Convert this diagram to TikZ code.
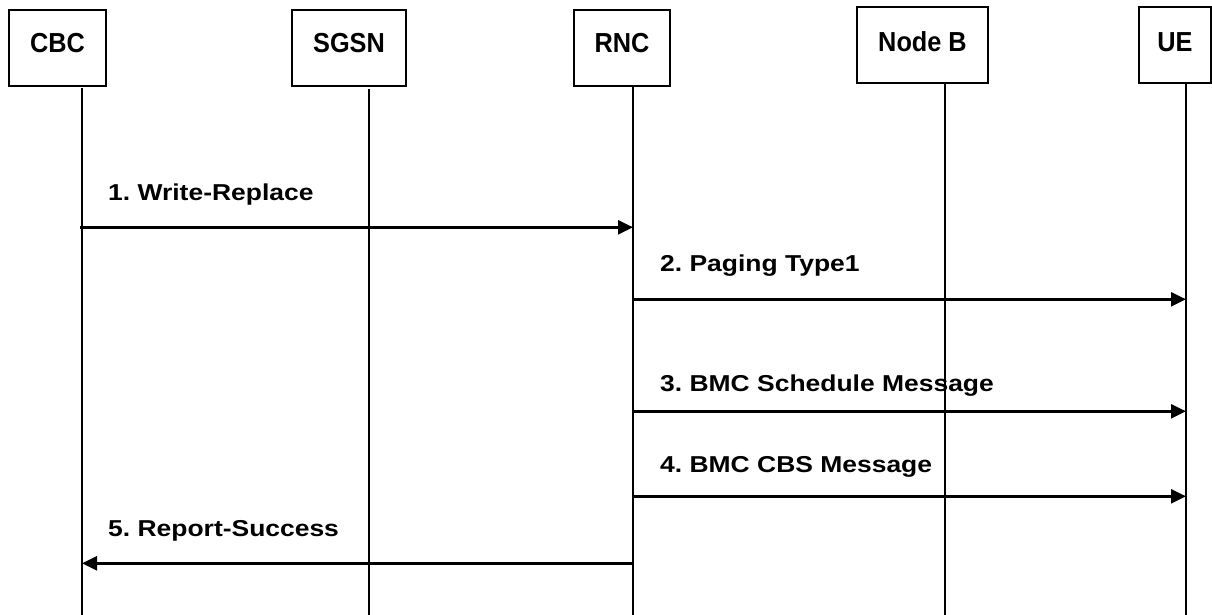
\documentclass[tikz,border=0pt]{standalone}
\usepackage{fontspec}
\setmainfont{Liberation Sans}
\usepackage{graphicx}
\usetikzlibrary{arrows.meta}

% widened / narrowed bold labels
\newcommand\entlabel[1]{\scalebox{0.92}[1]{#1}}
\newcommand\msglabel[1]{\scalebox{1.15}[1]{#1}}

\begin{document}
\frenchspacing
\begin{tikzpicture}[x=1pt,y=-1pt,
  entity/.style={draw, line width=1.6pt, inner sep=0pt, minimum height=76pt,
    font=\fontsize{27.5}{30}\selectfont\bfseries},
  upper/.style={text height=43pt, text depth=33pt},
  lower/.style={text height=45pt, text depth=31pt},
  lifeline/.style={line width=1.4pt},
  msg/.style={line width=2.4pt, -{Triangle[length=15pt,width=14pt]}},
  msgtext/.style={anchor=base west, inner sep=0pt,
    font=\fontsize{23}{26}\selectfont\bfseries}]

\useasboundingbox (0,0) rectangle (1212,615);

% entities
\node[entity, upper, minimum width=97pt]  (cbc)   at (57.5,48)  {\entlabel{CBC}};
\node[entity, upper, minimum width=114pt] (sgsn)  at (349,48)   {\entlabel{SGSN}};
\node[entity, upper, minimum width=96pt]  (rnc)   at (622,48)   {\entlabel{RNC}};
\node[entity, lower, minimum width=131pt] (nodeb) at (922.5,45) {\entlabel{Node B}};
\node[entity, lower, minimum width=72pt]  (ue)    at (1175,45)  {\entlabel{UE}};

% lifeline ends
\coordinate (cbcTop)   at (82,88);    \coordinate (cbcBot)   at (82,615);
\coordinate (sgsnTop)  at (369,89);   \coordinate (sgsnBot)  at (369,615);
\coordinate (rncTop)   at (633,86);   \coordinate (rncBot)   at (633,615);
\coordinate (nodebTop) at (945,83);   \coordinate (nodebBot) at (945,615);
\coordinate (ueTop)    at (1186,83);  \coordinate (ueBot)    at (1186,615);

\draw[lifeline] (cbcTop) -- (cbcBot);
\draw[lifeline] (sgsnTop) -- (sgsnBot);
\draw[lifeline] (rncTop) -- (rncBot);
\draw[lifeline] (nodebTop) -- (nodebBot);
\draw[lifeline] (ueTop) -- (ueBot);

% message rows
\coordinate (m1) at (0,227.3);
\coordinate (m2) at (0,299.3);
\coordinate (m3) at (0,411.3);
\coordinate (m4) at (0,496.3);
\coordinate (m5) at (0,563.3);

\draw[msg] ([xshift=-2pt]cbcTop |- m1) -- (rncTop |- m1);
\draw[msg] (rncTop |- m2) -- (ueTop |- m2);
\draw[msg] (rncTop |- m3) -- (ueTop |- m3);
\draw[msg] (rncTop |- m4) -- (ueTop |- m4);
\draw[msg] (rncTop |- m5) -- (cbcTop |- m5);

% message labels
\node[msgtext] (l1) at (108,200.7) {\msglabel{1. Write-Replace}};
\node[msgtext] (l2) at (660,271.7) {\msglabel{2. Paging Type1}};
\node[msgtext] (l3) at (660,391.7) {\msglabel{3. BMC Schedule Message}};
\node[msgtext] (l4) at (660,472)   {\msglabel{4. BMC CBS Message}};
\node[msgtext] (l5) at (108,536)   {\msglabel{5. Report-Success}};

\end{tikzpicture}
\end{document}
